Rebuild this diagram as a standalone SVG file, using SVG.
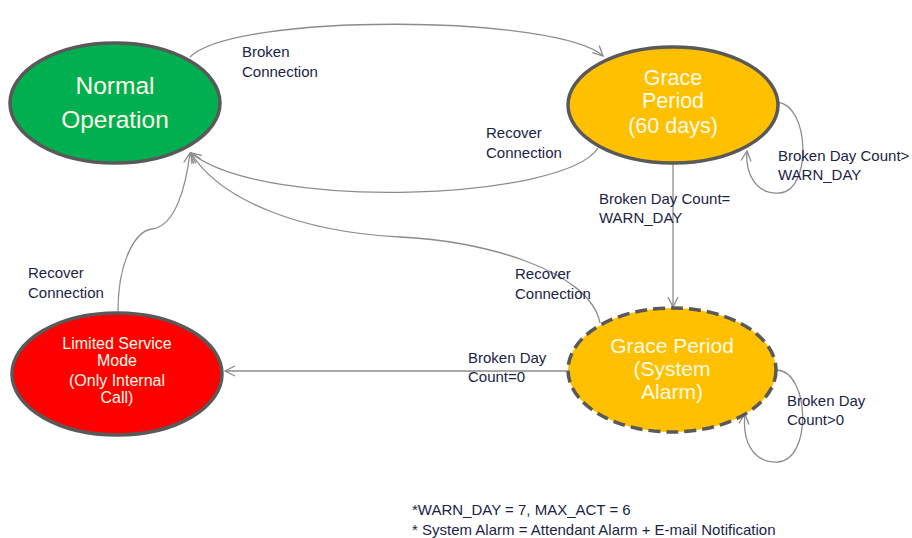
<svg xmlns="http://www.w3.org/2000/svg" width="912" height="538" viewBox="0 0 912 538">
<style>
.node{stroke:#595959;stroke-width:3.5}
.nt{font-family:"Liberation Sans",Arial,sans-serif;fill:#fffbe8;text-anchor:middle}
.lbl{font-family:"Liberation Sans",Arial,sans-serif;font-size:15px;fill:#1c2445}
.edge{fill:none;stroke:#8c8c8c;stroke-width:1.3;marker-end:url(#arr)}
</style>
<defs>
<marker id="arr" viewBox="0 0 12 12" refX="11" refY="6" markerWidth="12" markerHeight="12" markerUnits="userSpaceOnUse" orient="auto">
<polyline points="1,1 11,6 1,11" fill="none" stroke="#8c8c8c" stroke-width="1.3"/>
</marker>
</defs>
<rect width="912" height="538" fill="#ffffff"/>
<g id="connectors">
<path class="edge" d="M190,57 C235,12 560,15 603,56"/>
<path class="edge" d="M598,148 C565,200 265,212 191,153"/>
<path class="edge" d="M600,323 C590,270 480,240 400,237 C300,232 220,200 191,153"/>
<path class="edge" d="M118,311 C118,262 135,231 152,229 C176,226 186,185 190,153"/>
<path class="edge" d="M673,164 L673,307"/>
<path class="edge" d="M567,371 L225,371"/>
<path class="edge" d="M777,102 C810,105 812,190 780,193 C755,195 745,172 747,151"/>
<path class="edge" d="M777,370 C810,372 812,460 778,462 C752,463 742,440 745,414"/>
</g>
<g id="normal-operation">
<ellipse class="node" cx="115" cy="103" rx="105" ry="60" fill="#00b050"/>
<text class="nt" x="115" y="94" font-size="24.5">Normal</text>
<text class="nt" x="115" y="128" font-size="24.5">Operation</text>
</g>
<g id="grace-period-60">
<ellipse class="node" cx="673" cy="105" rx="105" ry="58" fill="#ffc000"/>
<text class="nt" x="673" y="85" font-size="21.5">Grace</text>
<text class="nt" x="673" y="108" font-size="21.5">Period</text>
<text class="nt" x="673" y="133" font-size="21.5">(60 days)</text>
</g>
<g id="limited-service">
<ellipse class="node" cx="117" cy="374" rx="105" ry="61" fill="#ff0000"/>
<text class="nt" x="117" y="349" font-size="16">Limited Service</text>
<text class="nt" x="117" y="366" font-size="16">Mode</text>
<text class="nt" x="117" y="386" font-size="16">(Only Internal</text>
<text class="nt" x="117" y="403" font-size="16">Call)</text>
</g>
<g id="grace-period-alarm">
<ellipse class="node" cx="672" cy="370" rx="104" ry="62" fill="#ffc000" stroke-dasharray="12,6"/>
<text class="nt" x="672" y="353" font-size="21">Grace Period</text>
<text class="nt" x="672" y="376" font-size="21">(System</text>
<text class="nt" x="672" y="399" font-size="21">Alarm)</text>
</g>
<g id="labels">
<text class="lbl" x="242" y="57">Broken</text>
<text class="lbl" x="242" y="77">Connection</text>
<text class="lbl" x="486" y="138">Recover</text>
<text class="lbl" x="486" y="158">Connection</text>
<text class="lbl" x="599" y="204">Broken Day Count=</text>
<text class="lbl" x="599" y="223">WARN_DAY</text>
<text class="lbl" x="778" y="161">Broken Day Count&gt;</text>
<text class="lbl" x="778" y="180">WARN_DAY</text>
<text class="lbl" x="515" y="279">Recover</text>
<text class="lbl" x="515" y="299">Connection</text>
<text class="lbl" x="28" y="278">Recover</text>
<text class="lbl" x="28" y="298">Connection</text>
<text class="lbl" x="468" y="363">Broken Day</text>
<text class="lbl" x="468" y="382">Count=0</text>
<text class="lbl" x="787" y="406">Broken Day</text>
<text class="lbl" x="787" y="425">Count&gt;0</text>
<text class="lbl" x="412" y="515">*WARN_DAY = 7, MAX_ACT = 6</text>
<text class="lbl" x="412" y="535">* System Alarm = Attendant Alarm + E-mail Notification</text>
</g>
</svg>
